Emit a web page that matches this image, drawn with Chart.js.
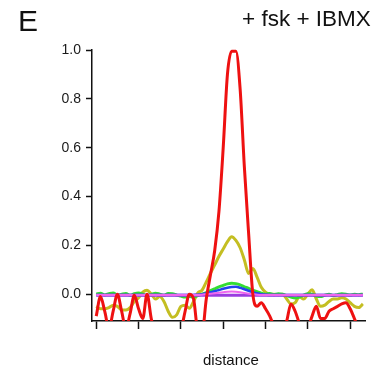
<!DOCTYPE html>
<html>
<head>
<meta charset="utf-8">
<script src="https://cdn.jsdelivr.net/npm/chart.js@4"></script>
<style>
  body { margin: 0; background: #fff; }
  #wrap { position: relative; width: 386px; height: 377px; font-family: "Liberation Sans", Arial, sans-serif; color: #111; }
  #wrap canvas { position: absolute; left: 0; top: 0; }
  .lbl { position: absolute; white-space: nowrap; line-height: 1; }
  #panel { left: 18px; top: 6px; font-size: 30px; }
  #cond { left: 242px; top: 8px; font-size: 22.5px; }
  #xname { left: 203px; top: 352px; font-size: 15px; }
</style>
</head>
<body>
<div id="wrap">
  <canvas id="profile-chart" width="386" height="377"></canvas>
  <div class="lbl" id="panel">E</div>
  <div class="lbl" id="cond">+ fsk + IBMX</div>
  <div class="lbl" id="xname">distance</div>
</div>
<script>
// Line profiles along distance (x in tick units, 0.1 step)
const xVals = Array.from({ length: 64 }, (_, i) => +(i * 0.1).toFixed(1));
const redVals = [-0.09, -0.01, -0.07, -0.14, -0.07, 0.0, -0.07, -0.14, -0.08, -0.005,
  -0.06, -0.1, 0.0, -0.1, -0.16, -0.17, -0.16, -0.14, -0.16, -0.17,
  -0.15, -0.07, 0.0, -0.02, -0.15, -0.16, -0.02, 0.08, 0.18, 0.34,
  0.6, 0.9, 0.995, 0.995, 0.84, 0.52, 0.25, 0.0, -0.05, -0.035,
  -0.06, -0.09, -0.13, -0.15, -0.15, -0.11, -0.04, -0.07, -0.12, -0.16,
  -0.14, -0.09, -0.05, -0.1, -0.1, -0.07, -0.06, -0.05, -0.04, -0.035,
  -0.06, -0.1, -0.14, -0.15];
const yellowVals = [-0.05, -0.06, -0.06, -0.055, -0.045, -0.05, -0.065, -0.065, -0.055, -0.03,
  -0.015, 0.008, 0.016, 0.0, -0.02, -0.01, -0.03, -0.07, -0.095, -0.085,
  -0.05, -0.045, -0.058, -0.03, 0.005, 0.016, 0.05, 0.086, 0.12, 0.155,
  0.185, 0.215, 0.235, 0.22, 0.19, 0.14, 0.085, 0.105, 0.07, 0.028,
  0.008, 0.0, 0.0, -0.002, 0.0, -0.02, -0.04, -0.035, -0.01, -0.02,
  0.0, 0.018, -0.02, -0.05, -0.045, -0.03, -0.02, -0.02, -0.015, -0.02,
  -0.035, -0.05, -0.055, -0.04];
const greenVals = [0.0, 0.004, -0.003, 0.002, 0.005, -0.004, 0.0, 0.003, -0.005, 0.002,
  0.005, 0.0, -0.006, -0.002, 0.004, 0.0, -0.005, 0.003, 0.002, -0.004,
  -0.008, -0.012, -0.01, -0.012, -0.006, 0.0, 0.006, 0.014, 0.022, 0.03,
  0.036, 0.042, 0.045, 0.043, 0.038, 0.03, 0.024, 0.016, 0.01, 0.004,
  0.0, 0.003, -0.002, 0.002, 0.0, -0.006, -0.012, -0.016, -0.012, -0.004,
  0.002, 0.0, -0.008, -0.01, -0.004, 0.0, -0.006, -0.002, 0.002, 0.0,
  -0.004, 0.0, -0.002, 0.0];
const blueVals = [-0.004, -0.004, -0.004, -0.004, -0.004, -0.004, -0.004, -0.004, -0.004, -0.004,
  -0.004, -0.004, -0.004, -0.004, -0.004, -0.004, -0.004, -0.004, -0.004, -0.004,
  -0.004, -0.004, -0.004, -0.003, -0.002, 0.0, 0.004, 0.008, 0.012, 0.017,
  0.022, 0.026, 0.029, 0.03, 0.026, 0.02, 0.014, 0.008, 0.004, 0.0,
  -0.002, -0.004, -0.004, -0.004, -0.004, -0.004, -0.004, -0.004, -0.004, -0.004,
  -0.004, -0.004, -0.004, -0.004, -0.004, -0.004, -0.004, -0.004, -0.004, -0.004,
  -0.004, -0.004, -0.004, -0.004];
const magentaVals = [-0.003, -0.003, -0.003, -0.003, -0.003, -0.003, -0.003, -0.003, -0.003, -0.003,
  -0.003, -0.003, -0.003, -0.003, -0.003, -0.003, -0.003, -0.003, -0.003, -0.003,
  -0.003, -0.003, -0.003, -0.003, -0.003, -0.002, 0.0, 0.002, 0.004, 0.006,
  0.008, 0.01, 0.011, 0.01, 0.008, 0.005, 0.002, 0.0, -0.002, -0.003,
  -0.003, -0.003, -0.003, -0.003, -0.003, -0.003, -0.003, -0.003, -0.003, -0.003,
  -0.003, -0.003, -0.003, -0.003, -0.003, -0.003, -0.003, -0.003, -0.003, -0.003,
  -0.003, -0.003, -0.003, -0.003];
const purpleVals = xVals.map(() => -0.005);
const xTicks = [0, 1, 2, 3, 4, 5, 6];
const yTicks = [0, 0.2, 0.4, 0.6, 0.8, 1.0];

function series(vals, color, width) {
    return {
        data: xVals.map((x, i) => ({ x: x, y: vals[i] })),
        borderColor: color,
        borderWidth: width,
        pointRadius: 0,
        fill: false,
        cubicInterpolationMode: 'monotone',
        clip: { left: 4, right: 4, top: 4, bottom: 0 }
    };
}

const ctx = document.getElementById('profile-chart').getContext('2d');
new Chart(ctx, {
    type: 'line',
    data: {
        // drawn last-to-first, so red ends up on top
        datasets: [
            series(redVals, '#ee1111', 3),
            series(magentaVals, '#ee66ee', 2),
            series(purpleVals, '#9a3ce0', 3),
            series(blueVals, '#2244ee', 2.5),
            series(greenVals, '#33dd33', 3),
            series(yellowVals, '#c4be22', 3)
        ].map((d, i) => Object.assign(d, { order: i }))
    },
    options: {
        responsive: false,
        animation: false,
        layout: { padding: { left: 0, right: 21, top: 50, bottom: 0 } },
        plugins: { legend: { display: false }, tooltip: { enabled: false } },
        scales: {
            x: {
                type: 'linear',
                min: -0.1,
                max: 6.35,
                afterBuildTicks: s => { s.ticks = xTicks.map(v => ({ value: v })); },
                afterFit: s => { s.height = 56; },
                ticks: { display: false },
                grid: { drawOnChartArea: false, drawTicks: true, tickLength: 8, tickWidth: 1.5, tickColor: '#111' },
                border: { display: true, color: '#111', width: 1.5 }
            },
            y: {
                min: -0.11,
                max: 1.0,
                afterBuildTicks: s => { s.ticks = yTicks.map(v => ({ value: v })); },
                afterFit: s => { s.width = 92; },
                ticks: {
                    color: '#1a1a1a',
                    padding: 5,
                    font: { family: '"Liberation Sans", Arial, sans-serif', size: 14 },
                    callback: v => v.toFixed(1)
                },
                grid: { drawOnChartArea: false, drawTicks: true, tickLength: 6, tickWidth: 1.5, tickColor: '#111' },
                border: { display: true, color: '#111', width: 1.5 }
            }
        }
    }
});
</script>
</body>
</html>
